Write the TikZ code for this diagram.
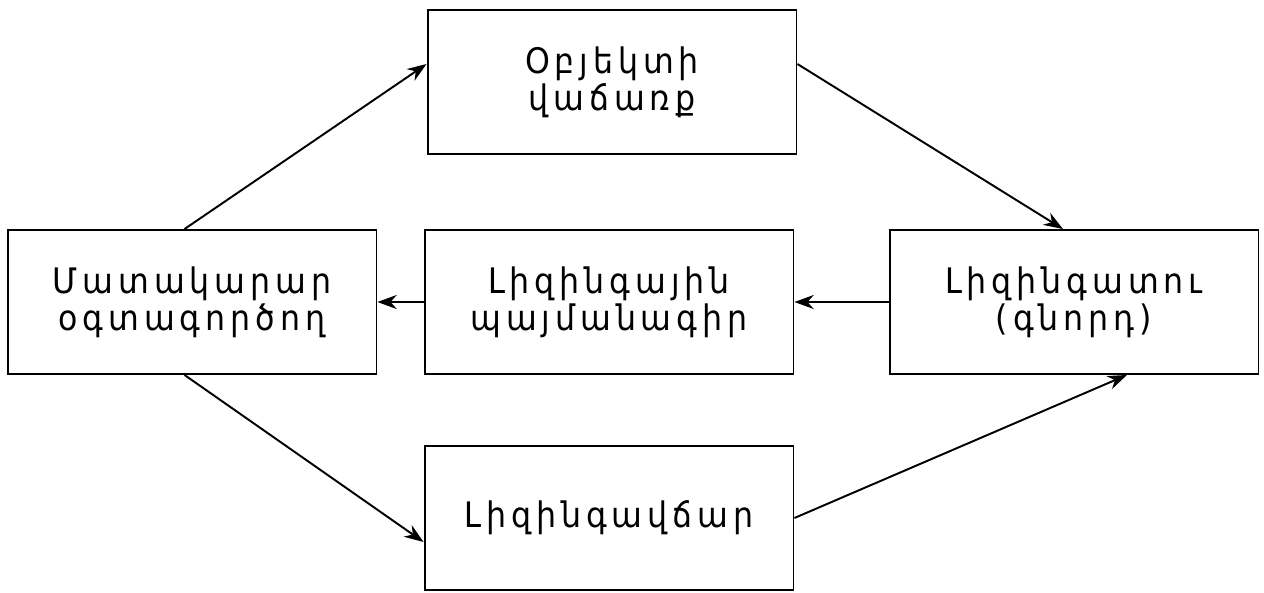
\documentclass[tikz,border=0pt]{standalone}
\usepackage{fontspec}
\setmainfont{DejaVu Sans Condensed}[LetterSpace=14]
\usetikzlibrary{arrows.meta}

\begin{document}
\begin{tikzpicture}[x=0.02cm, y=-0.02cm,
	every node/.style={rectangle, draw=black, line width=1.1pt, minimum width=7.38cm, minimum height=2.88cm, align=center, font=\fontsize{20}{21}\selectfont},
	arr/.style={->, draw=black, line width=1.1pt}, >={Stealth[length=11pt, width=8pt]}]
				\useasboundingbox (0,0) rectangle (1264,592);
				\node (obj) at (612,82) {Օբյեկտի\\վաճառք};
				\node (sup) at (192,302) {Մատակարար\\օգտագործող};
				\node (dog) at (609,302) {Լիզինգային\\պայմանագիր};
				\node (les) at (1074,302) {Լիզինգատու\\(գնորդ)};
				\node (pay) at (609,518) {Լիզինգավճար};
				
				\path ([xshift=-0.15cm]sup.north) edge[arr] ([yshift=0.36cm]obj.west);
				\path ([yshift=0.36cm]obj.east) edge[arr] ([xshift=-0.22cm]les.north);
				\path (les.west) edge[arr] (dog.east);
				\path (dog.west) edge[arr] (sup.east);
				\path ([xshift=-0.15cm]sup.south) edge[arr] ([yshift=-0.48cm]pay.west);
				\path (pay.east) edge[arr] ([xshift=1.06cm]les.south);
				\end{tikzpicture}
\end{document}
